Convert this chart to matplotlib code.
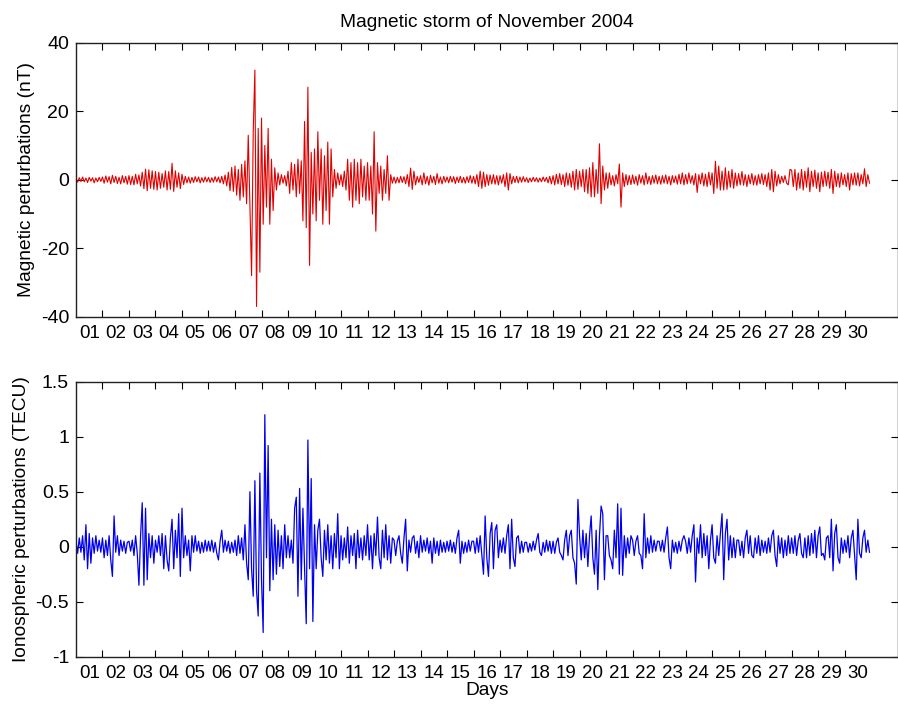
import numpy as np
import matplotlib.pyplot as plt
from matplotlib.ticker import FixedLocator, NullFormatter

plt.rcParams['font.family'] = ['Liberation Sans', 'DejaVu Sans']
plt.rcParams['axes.unicode_minus'] = False

# 16 samples per day (every 1.5 h), starting 1 November 2004 00:00
samples_per_day = 16
first_day = 1

# magnetic perturbations (nT), one row per day
mag = [
    0.4,-0.7,0.6,-0.5,0.8,-0.6,0.5,-0.8,0.7,-0.4,0.6,-0.9,0.5,-0.6,0.7,-0.5,          # 01
    0.8,-1.0,1.1,-0.7,0.9,-1.2,1.3,-0.8,1.0,-1.1,0.7,-1.2,1.2,-0.9,1.0,-1.3,          # 02
    1.2,-1.4,1.0,-1.5,1.6,-1.2,1.4,-1.8,2.2,-2.6,3.1,-3.2,2.9,-2.5,2.6,-2.8,          # 03
    2.4,-3.0,2.2,-2.5,1.8,-2.2,2.6,-3.0,2.4,-2.8,4.8,-3.4,2.6,-2.2,2.0,-2.6,          # 04
    1.6,-1.4,1.0,-0.9,0.8,-1.0,0.7,-0.8,0.9,-0.6,0.8,-0.9,0.6,-0.7,0.8,-0.6,          # 05
    0.7,-0.8,0.6,-0.7,0.9,-0.6,0.8,-0.9,1.0,-1.2,1.4,-1.8,2.2,-3.2,3.6,-3.4,          # 06
    4.0,-4.5,3.0,-6.0,4.5,-5.0,5.5,-7.0,13.0,-8.0,-28.0,14.0,32.0,-37.0,15.0,-27.0,  # 07
    18.0,-13.0,10.0,-8.0,15.0,-13.0,6.0,-9.0,3.5,-3.0,2.0,-1.5,1.5,-1.0,1.2,-1.8,    # 08
    2.5,-4.0,5.0,-3.0,4.5,-5.0,6.0,-4.0,5.5,-12.0,17.0,-14.0,27.0,-25.0,8.0,-10.0,   # 09
    9.0,-12.0,14.0,-6.0,9.0,-13.0,7.0,-9.0,11.0,-13.0,9.0,-5.0,3.0,-2.5,2.0,-1.5,    # 10
    1.5,-2.0,2.5,-3.0,6.0,-6.0,5.0,-8.0,6.0,-6.0,5.0,-7.0,6.0,-5.0,4.0,-6.0,          # 11
    5.0,-6.0,4.0,-10.0,14.0,-15.0,5.0,-4.0,4.0,-6.0,3.0,-4.0,7.0,-6.0,1.5,-1.0,      # 12
    0.8,-1.0,0.7,-0.9,1.0,-0.8,0.9,-1.2,1.5,-2.0,3.4,-2.8,2.5,-1.5,1.0,-0.8,          # 13
    1.2,-1.5,2.0,-1.2,1.0,-1.6,1.3,-0.9,1.0,-1.4,1.8,-1.0,0.8,-1.2,1.0,-0.7,          # 14
    0.8,-0.9,1.0,-0.7,0.9,-1.1,0.8,-0.8,1.0,-0.9,0.7,-1.0,0.9,-0.8,1.2,-1.0,          # 15
    1.0,-1.2,1.5,-2.0,2.5,-2.5,2.2,-2.0,1.5,-1.6,1.4,-1.2,1.5,-1.3,1.2,-1.5,          # 16
    1.2,-1.0,1.5,-2.0,2.0,-3.0,1.8,-1.2,1.0,-0.8,1.0,-0.9,0.8,-0.7,0.9,-0.6,          # 17
    0.6,-0.8,0.5,-0.6,0.7,-0.5,0.6,-0.7,0.5,-0.6,0.8,-0.5,0.7,-0.9,1.0,-1.2,          # 18
    1.2,-1.5,1.6,-1.2,1.8,-1.4,1.5,-2.0,2.0,-1.6,1.8,-2.2,2.5,-3.0,3.0,-2.8,          # 19
    2.5,-2.0,3.0,-3.5,3.0,-4.0,3.5,-5.0,5.0,-5.0,3.0,-4.0,10.5,-7.0,4.0,-3.0,         # 20
    2.0,-2.5,2.0,-1.5,1.2,-1.8,1.5,-1.2,4.6,-8.0,2.0,-2.0,1.5,-1.5,1.2,-1.4,          # 21
    1.4,-1.2,1.0,-1.6,1.5,-1.0,1.2,-1.5,2.0,-1.2,1.0,-1.4,1.2,-1.0,1.4,-1.2,          # 22
    1.0,-1.3,1.2,-1.0,1.4,-1.2,1.0,-1.5,1.2,-0.9,1.1,-1.3,1.6,-1.2,2.0,-1.5,          # 23
    1.5,-1.2,2.0,-1.0,1.2,-1.5,1.8,-3.7,1.5,-1.2,2.0,-1.8,1.6,-2.0,2.2,-1.5,          # 24
    2.0,-4.0,5.4,-2.5,4.0,-3.0,2.5,-3.0,3.5,-2.8,2.5,-2.2,3.0,-2.5,2.0,-1.8,          # 25
    1.8,-1.5,2.4,-1.6,1.5,-2.0,1.4,-1.2,1.8,-1.5,1.2,-1.6,1.5,-1.2,1.8,-1.4,          # 26
    1.5,-2.0,2.0,-3.0,3.0,-3.5,2.5,-1.8,1.5,-1.2,1.0,-0.8,1.2,-1.0,-1.5,3.0,          # 27
    2.8,-2.0,3.0,-3.0,2.0,-2.5,3.0,-3.0,2.5,-2.2,3.5,-3.5,2.5,-2.0,2.8,-2.5,          # 28
    2.0,-3.5,2.2,-2.0,2.5,-1.8,2.2,-2.5,3.0,-4.0,2.5,-2.0,1.8,-2.2,2.0,-1.5,          # 29
    1.5,-2.0,2.0,-3.0,1.8,-1.5,2.0,-1.6,2.0,-1.8,1.5,-1.2,3.2,-2.0,1.5,-1.0,          # 30
]

# ionospheric perturbations (TECU), one row per day
tec = [
    0.05,-0.06,0.08,-0.05,0.10,-0.12,0.20,-0.20,0.12,-0.15,0.08,-0.06,0.10,-0.04,0.06,-0.05,   # 01
    0.08,-0.10,0.06,-0.08,0.10,-0.12,-0.27,0.28,-0.05,0.10,-0.08,0.06,-0.04,0.05,-0.06,0.04,   # 02
    0.05,-0.04,0.06,-0.08,0.10,-0.06,-0.35,0.10,0.40,-0.35,0.35,-0.30,0.12,-0.10,0.10,-0.15,   # 03
    0.06,-0.05,0.10,-0.08,0.12,-0.20,0.10,-0.12,-0.22,0.08,0.25,-0.20,0.15,-0.10,0.30,-0.27,   # 04
    0.35,-0.10,0.10,-0.08,0.06,-0.22,0.10,-0.05,0.10,-0.04,0.05,-0.06,0.04,-0.05,0.06,-0.04,   # 05
    0.05,-0.04,0.06,-0.05,0.04,-0.06,-0.12,0.05,0.15,-0.05,0.06,-0.04,0.05,-0.06,0.04,-0.05,   # 06
    0.06,-0.08,0.10,-0.06,0.08,-0.12,0.20,-0.15,-0.30,0.50,-0.20,-0.45,0.60,-0.40,-0.63,0.67,  # 07
    -0.30,-0.78,1.20,-0.10,0.92,-0.40,0.25,-0.30,0.20,-0.25,0.15,-0.18,0.10,-0.20,0.20,-0.10,  # 08
    0.10,-0.10,0.06,-0.15,0.35,0.45,-0.45,0.53,-0.30,0.35,-0.20,-0.70,0.97,-0.20,0.62,-0.68,   # 09
    0.20,-0.20,0.15,0.25,-0.10,-0.27,0.15,-0.12,0.20,-0.15,0.10,-0.20,0.12,-0.10,0.30,-0.20,   # 10
    0.10,-0.12,0.08,-0.10,0.18,-0.15,0.10,-0.08,0.12,-0.20,0.15,-0.10,0.08,-0.12,0.10,-0.08,   # 11
    0.20,-0.12,0.10,-0.20,0.12,-0.08,0.27,-0.10,-0.20,0.15,-0.10,0.20,-0.12,0.10,-0.15,0.08,   # 12
    0.06,-0.08,0.05,0.10,-0.06,-0.15,0.08,0.25,-0.22,0.06,-0.05,0.08,0.10,-0.06,0.05,-0.10,    # 13
    0.10,-0.05,0.06,-0.04,0.08,-0.06,0.05,-0.15,0.08,-0.06,0.05,-0.08,0.06,-0.05,0.04,-0.05,   # 14
    0.05,-0.04,0.06,-0.05,0.04,-0.06,0.08,0.15,-0.15,0.05,-0.06,0.04,-0.05,0.06,-0.04,0.05,    # 15
    0.05,-0.06,0.08,-0.05,0.10,-0.08,-0.25,0.28,-0.10,-0.27,0.12,0.22,-0.20,0.15,0.20,-0.10,   # 16
    0.06,-0.05,0.08,-0.06,0.10,0.20,-0.20,0.25,-0.10,-0.18,0.08,0.10,-0.06,0.05,-0.05,0.04,    # 17
    0.04,-0.05,0.03,-0.04,0.05,-0.03,0.06,0.12,-0.05,-0.08,0.04,-0.05,0.06,-0.04,0.05,-0.06,   # 18
    0.05,-0.06,0.04,0.08,-0.05,-0.08,-0.12,0.06,0.15,-0.08,0.10,0.15,-0.10,-0.15,-0.34,0.43,   # 19
    0.10,-0.12,0.15,-0.10,0.12,-0.18,0.10,0.28,-0.10,-0.25,0.15,-0.39,0.10,0.37,0.30,-0.30,    # 20
    0.10,0.10,-0.08,-0.12,-0.20,0.15,-0.10,0.39,-0.25,0.35,-0.26,0.10,-0.10,0.08,-0.06,0.10,   # 21
    0.06,-0.08,0.05,0.10,-0.06,-0.08,-0.20,0.30,-0.10,0.08,-0.06,0.10,-0.05,0.06,-0.04,0.05,   # 22
    0.05,-0.04,0.06,-0.05,0.08,0.18,-0.10,-0.20,0.06,-0.05,0.04,-0.06,0.05,-0.04,0.06,0.10,    # 23
    0.05,-0.06,0.08,-0.05,0.10,0.20,-0.32,0.08,-0.06,0.20,-0.10,0.12,-0.08,0.10,-0.20,0.06,    # 24
    0.20,-0.10,-0.15,0.10,-0.08,0.12,0.30,-0.30,0.12,0.25,-0.12,0.10,-0.10,0.08,-0.10,0.06,    # 25
    0.06,-0.08,0.05,-0.10,0.08,0.15,-0.06,0.10,-0.08,-0.10,0.08,-0.06,0.10,-0.08,0.06,-0.05,   # 26
    0.05,-0.06,0.08,-0.05,0.10,0.15,-0.08,-0.18,0.10,-0.06,0.08,-0.10,0.06,-0.08,0.10,-0.06,   # 27
    0.08,-0.06,0.10,-0.08,0.06,0.12,-0.06,-0.10,0.08,-0.10,0.10,-0.08,0.12,-0.06,0.15,-0.10,   # 28
    0.10,0.18,-0.08,-0.06,-0.12,0.08,0.10,-0.10,0.25,-0.22,0.12,0.20,-0.10,-0.15,0.08,-0.06,   # 29
    0.06,-0.05,0.10,-0.10,0.08,0.15,-0.08,-0.30,0.25,-0.06,-0.10,0.08,0.15,-0.05,0.06,-0.05,   # 30
]

day_labels = ['%02d' % d for d in range(1, 31)]
mag_ticks = [-40, -20, 0, 20, 40]
tec_ticks = [-1, -0.5, 0, 0.5, 1, 1.5]
tec_ticklabels = ['-1', '-0.5', '0', '0.5', '1', '1.5']

t_mag = first_day + np.arange(len(mag)) / samples_per_day
t_tec = first_day + np.arange(len(tec)) / samples_per_day


def style_axis(ax):
    ax.set_xlim(1, 32)
    # day boundaries as ticks, day names centred between them
    ax.xaxis.set_major_locator(FixedLocator(np.arange(2, 31)))
    ax.xaxis.set_major_formatter(NullFormatter())
    ax.xaxis.set_minor_locator(FixedLocator(np.arange(1, 31) + 0.5))
    ax.set_xticklabels(day_labels, minor=True)
    ax.tick_params(axis='x', which='major', direction='in', top=True, length=5, width=0.8)
    ax.tick_params(axis='x', which='minor', length=0, pad=6, labelsize=13.5)
    ax.tick_params(axis='y', direction='in', right=True, length=5, width=0.8, labelsize=14, pad=5)
    for s in ax.spines.values():
        s.set_linewidth(1.0)
        s.set_color('#222222')


fig = plt.figure(figsize=(8.98, 7.06), dpi=100)

ax1 = fig.add_axes([0.0846, 0.5513, 0.915, 0.3882])
ax1.plot(t_mag, mag, color='#e00000', lw=0.8)
style_axis(ax1)
ax1.set_ylim(-40, 40)
ax1.set_yticks(mag_ticks)
ax1.set_ylabel('Magnetic perturbations (nT)', fontsize=13.8, labelpad=4)
ax1.set_title('Magnetic storm of November 2004', fontsize=13.8, pad=11)

ax2 = fig.add_axes([0.0846, 0.0698, 0.915, 0.3895])
ax2.plot(t_tec, tec, color='#0000ee', lw=0.9)
style_axis(ax2)
ax2.set_ylim(-1, 1.5)
ax2.set_yticks(tec_ticks)
ax2.set_yticklabels(tec_ticklabels)
ax2.set_ylabel('Ionospheric perturbations (TECU)', fontsize=13.8, labelpad=4)
ax2.set_xlabel('Days', fontsize=13.8, labelpad=0)

fig.savefig('out.png', dpi=100)
